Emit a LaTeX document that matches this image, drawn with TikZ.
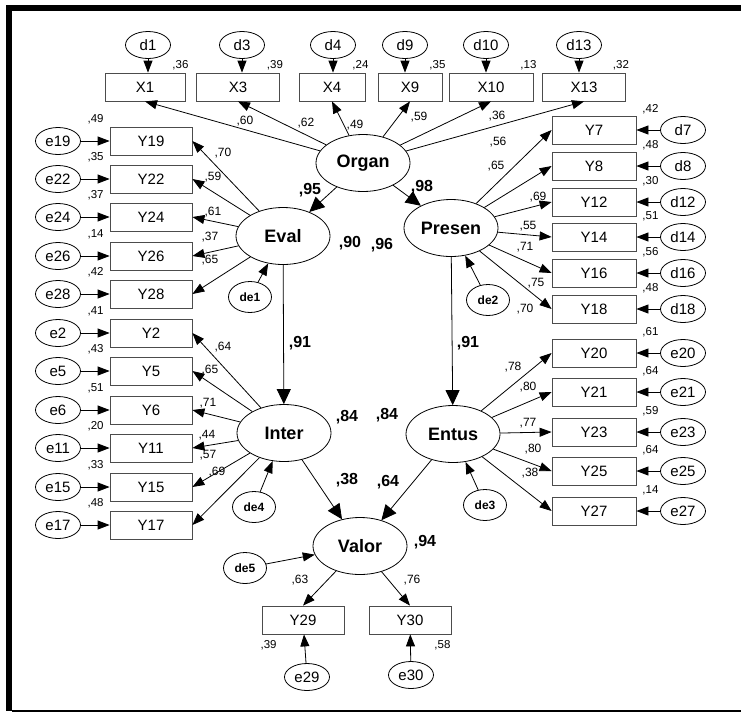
\documentclass[tikz,border=0pt]{standalone}
\usepackage{fontspec}
\setmainfont{Liberation Sans}
\usetikzlibrary{arrows.meta,shapes.geometric}
\tikzset{
    >={Triangle[length=12pt,width=9pt]},
    latent/.style={
           ellipse,
           draw=black, line width=0.8pt,
           minimum width=94pt, minimum height=57pt,
           inner sep=0pt,
           font=\fontsize{18}{18}\selectfont\bfseries},
    boks/.style={
           rectangle,
           draw=black!70, line width=0.8pt,
           minimum width=82pt, minimum height=28pt,
           inner sep=0pt,
           font=\fontsize{15}{15}\selectfont},
    feil/.style={
           ellipse,
           draw=black, line width=0.8pt,
           minimum width=45pt, minimum height=27pt,
           inner sep=0pt,
           font=\fontsize{15}{15}\selectfont},
    rest/.style={
           ellipse,
           draw=black, line width=0.8pt,
           minimum width=43pt, minimum height=31pt,
           inner sep=0pt,
           font=\fontsize{12}{12}\selectfont\bfseries},
    tall/.style={inner sep=0pt, font=\fontsize{11.5}{11.5}\selectfont},
    last/.style={inner sep=0pt, font=\fontsize{12}{12}\selectfont},
    koef/.style={inner sep=0pt, font=\fontsize{16}{16}\selectfont\bfseries},
    pil/.style={->, line width=0.8pt},
    storpil/.style={-{Triangle[length=15pt,width=14pt]}, line width=0.8pt}
}
\begin{document}
\begin{tikzpicture}[x=1pt,y=-1pt]
          \def \lx {151}
          \def \rx {594}
          \useasboundingbox (0,0) rectangle (741,713);
          % frame
          \fill[black] (6,5) rectangle (741,11);
          \fill[black] (6,5) rectangle (12,711);
          \draw[line width=1.5pt] (12,711) -- (741,711);
          % latent variables
          \node[latent](Organ) at (363,163) {Organ};
          \node[latent](Eval) at (283,236) {Eval};
          \node[latent](Presen) at (451,228) {Presen};
          \node[latent](Inter) at (284,433) {Inter};
          \node[latent](Entus) at (453,434) {Entus};
          \node[latent](Valor) at (360,546) {Valor};
          \node[rest](de1) at (250,297) {de1};
          \node[rest](de2) at (488,300) {de2};
          \node[rest](de3) at (485,505) {de3};
          \node[rest](de4) at (254,507) {de4};
          \node[rest](de5) at (245,568) {de5};
          % top row
          \node[boks, minimum width=80pt](X1) at (145,87) {X1};
          \node[boks, minimum width=83pt](X3) at (238,87) {X3};
          \node[boks, minimum width=66pt](X4) at (332,87) {X4};
          \node[boks, minimum width=64pt](X9) at (410,87) {X9};
          \node[boks, minimum width=84pt](X10) at (491,87) {X10};
          \node[boks, minimum width=83pt](X13) at (584,87) {X13};
          \node[feil](d1) at (148,45) {d1};
          \node[feil](d3) at (242,45) {d3};
          \node[feil](d4) at (333,45) {d4};
          \node[feil](d9) at (405,45) {d9};
          \node[feil](d10) at (486,45) {d10};
          \node[feil](d13) at (579,45) {d13};
          % left column
          \node[boks](Y19) at (\lx,141) {Y19};
          \node[boks](Y22) at (\lx,179) {Y22};
          \node[boks](Y24) at (\lx,217) {Y24};
          \node[boks](Y26) at (\lx,256) {Y26};
          \node[boks](Y28) at (\lx,294) {Y28};
          \node[boks](Y2) at (\lx,333) {Y2};
          \node[boks](Y5) at (\lx,371) {Y5};
          \node[boks](Y6) at (\lx,410) {Y6};
          \node[boks](Y11) at (\lx,448) {Y11};
          \node[boks](Y15) at (\lx,487) {Y15};
          \node[boks](Y17) at (\lx,525) {Y17};
          \node[feil](e19) at (58,141) {e19};
          \node[feil](e22) at (58,179) {e22};
          \node[feil](e24) at (58,217) {e24};
          \node[feil](e26) at (58,256) {e26};
          \node[feil](e28) at (58,294) {e28};
          \node[feil](e2) at (58,333) {e2};
          \node[feil](e5) at (58,371) {e5};
          \node[feil](e6) at (58,410) {e6};
          \node[feil](e11) at (58,448) {e11};
          \node[feil](e15) at (58,487) {e15};
          \node[feil](e17) at (58,525) {e17};
          % right column
          \node[boks, minimum width=84pt](Y7) at (\rx,130) {Y7};
          \node[boks, minimum width=84pt](Y8) at (\rx,166) {Y8};
          \node[boks, minimum width=84pt](Y12) at (\rx,202) {Y12};
          \node[boks, minimum width=84pt](Y14) at (\rx,237) {Y14};
          \node[boks, minimum width=84pt](Y16) at (\rx,273) {Y16};
          \node[boks, minimum width=84pt](Y18) at (\rx,309) {Y18};
          \node[boks, minimum width=84pt](Y20) at (\rx,353) {Y20};
          \node[boks, minimum width=84pt](Y21) at (\rx,392) {Y21};
          \node[boks, minimum width=84pt](Y23) at (\rx,432) {Y23};
          \node[boks, minimum width=84pt](Y25) at (\rx,471) {Y25};
          \node[boks, minimum width=84pt](Y27) at (\rx,511) {Y27};
          \node[feil](d7) at (683,130) {d7};
          \node[feil](d8) at (683,166) {d8};
          \node[feil](d12) at (683,202) {d12};
          \node[feil](d14) at (683,237) {d14};
          \node[feil](d16) at (683,273) {d16};
          \node[feil](d18) at (683,309) {d18};
          \node[feil](e20) at (683,353) {e20};
          \node[feil](e21) at (683,392) {e21};
          \node[feil](e23) at (683,432) {e23};
          \node[feil](e25) at (683,471) {e25};
          \node[feil](e27) at (683,511) {e27};
          % bottom
          \node[boks](Y29) at (303,620) {Y29};
          \node[boks](Y30) at (410,620) {Y30};
          \node[feil](e29) at (307,677) {e29};
          \node[feil](e30) at (411,675) {e30};
          % structural paths
          \draw[storpil] (Organ) -- (Eval);
          \draw[storpil] (Organ) -- (Presen);
          \draw[storpil] (Eval) -- (Inter);
          \draw[storpil] (Presen) -- (Entus);
          \draw[storpil] (Inter) -- (Valor);
          \draw[storpil] (Entus) -- (Valor);
          \draw[pil] (de1) -- (Eval);
          \draw[pil] (de2) -- (Presen);
          \draw[pil] (de3) -- (Entus);
          \draw[pil] (de4) -- (Inter);
          \draw[pil] (de5) -- (Valor);
          % loadings
          \draw[pil] (Organ) -- (X1.south);
          \draw[pil] (Organ) -- (X3.south);
          \draw[pil] (Organ) -- (X4.south);
          \draw[pil] (Organ) -- (X9.south);
          \draw[pil] (Organ) -- (X10.south);
          \draw[pil] (Organ) -- (X13.south);
          \draw[pil] (Eval) -- (Y19.east);
          \draw[pil] (Eval) -- (Y22.east);
          \draw[pil] (Eval) -- (Y24.east);
          \draw[pil] (Eval) -- (Y26.east);
          \draw[pil] (Eval) -- (Y28.east);
          \draw[pil] (Inter) -- (Y2.east);
          \draw[pil] (Inter) -- (Y5.east);
          \draw[pil] (Inter) -- (Y6.east);
          \draw[pil] (Inter) -- (Y11.east);
          \draw[pil] (Inter) -- (Y15.east);
          \draw[pil] (Inter) -- (Y17.east);
          \draw[pil] (Presen) -- (Y7.west);
          \draw[pil] (Presen) -- (Y8.west);
          \draw[pil] (Presen) -- (Y12.west);
          \draw[pil] (Presen) -- (Y14.west);
          \draw[pil] (Presen) -- (Y16.west);
          \draw[pil] (Presen) -- (Y18.west);
          \draw[pil] (Entus) -- (Y20.west);
          \draw[pil] (Entus) -- (Y21.west);
          \draw[pil] (Entus) -- (Y23.west);
          \draw[pil] (Entus) -- (Y25.west);
          \draw[pil] (Entus) -- (Y27.west);
          \draw[pil] (Valor) -- (Y29.north);
          \draw[pil] (Valor) -- (Y30.north);
          % error terms
          \draw[pil] (d1.south) -- (d1.south |- X1.north);
          \draw[pil] (d3.south) -- (d3.south |- X3.north);
          \draw[pil] (d4.south) -- (d4.south |- X4.north);
          \draw[pil] (d9.south) -- (d9.south |- X9.north);
          \draw[pil] (d10.south) -- (d10.south |- X10.north);
          \draw[pil] (d13.south) -- (d13.south |- X13.north);
          \draw[pil] (e19) -- (Y19);
          \draw[pil] (e22) -- (Y22);
          \draw[pil] (e24) -- (Y24);
          \draw[pil] (e26) -- (Y26);
          \draw[pil] (e28) -- (Y28);
          \draw[pil] (e2) -- (Y2);
          \draw[pil] (e5) -- (Y5);
          \draw[pil] (e6) -- (Y6);
          \draw[pil] (e11) -- (Y11);
          \draw[pil] (e15) -- (Y15);
          \draw[pil] (e17) -- (Y17);
          \draw[pil] (d7) -- (Y7);
          \draw[pil] (d8) -- (Y8);
          \draw[pil] (d12) -- (Y12);
          \draw[pil] (d14) -- (Y14);
          \draw[pil] (d16) -- (Y16);
          \draw[pil] (d18) -- (Y18);
          \draw[pil] (e20) -- (Y20);
          \draw[pil] (e21) -- (Y21);
          \draw[pil] (e23) -- (Y23);
          \draw[pil] (e25) -- (Y25);
          \draw[pil] (e27) -- (Y27);
          \draw[pil] (e29) -- (Y29);
          \draw[pil] (e30) -- (Y30);
          % squared multiple correlations
          \node[tall, anchor=south](vX1) at ([xshift=-5pt,yshift=2pt]X1.north east) {,36};
          \node[tall, anchor=south](vX3) at ([xshift=-5pt,yshift=2pt]X3.north east) {,39};
          \node[tall, anchor=south](vX4) at ([xshift=-5pt,yshift=2pt]X4.north east) {,24};
          \node[tall, anchor=south](vX9) at ([xshift=-5pt,yshift=2pt]X9.north east) {,35};
          \node[tall, anchor=south](vX10) at ([xshift=-5pt,yshift=2pt]X10.north east) {,13};
          \node[tall, anchor=south](vX13) at ([xshift=-5pt,yshift=2pt]X13.north east) {,32};
          \node[tall, anchor=south](vY19) at ([xshift=-14pt,yshift=2pt]Y19.north west) {,49};
          \node[tall, anchor=south](vY22) at ([xshift=-14pt,yshift=2pt]Y22.north west) {,35};
          \node[tall, anchor=south](vY24) at ([xshift=-14pt,yshift=2pt]Y24.north west) {,37};
          \node[tall, anchor=south](vY26) at ([xshift=-14pt,yshift=2pt]Y26.north west) {,14};
          \node[tall, anchor=south](vY28) at ([xshift=-14pt,yshift=2pt]Y28.north west) {,42};
          \node[tall, anchor=south](vY2) at ([xshift=-14pt,yshift=2pt]Y2.north west) {,41};
          \node[tall, anchor=south](vY5) at ([xshift=-14pt,yshift=2pt]Y5.north west) {,43};
          \node[tall, anchor=south](vY6) at ([xshift=-14pt,yshift=2pt]Y6.north west) {,51};
          \node[tall, anchor=south](vY11) at ([xshift=-14pt,yshift=2pt]Y11.north west) {,20};
          \node[tall, anchor=south](vY15) at ([xshift=-14pt,yshift=2pt]Y15.north west) {,33};
          \node[tall, anchor=south](vY17) at ([xshift=-14pt,yshift=2pt]Y17.north west) {,48};
          \node[tall, anchor=south](vY7) at ([xshift=14pt,yshift=1pt]Y7.north east) {,42};
          \node[tall, anchor=south](vY8) at ([xshift=14pt,yshift=1pt]Y8.north east) {,48};
          \node[tall, anchor=south](vY12) at ([xshift=14pt,yshift=1pt]Y12.north east) {,30};
          \node[tall, anchor=south](vY14) at ([xshift=14pt,yshift=1pt]Y14.north east) {,51};
          \node[tall, anchor=south](vY16) at ([xshift=14pt,yshift=1pt]Y16.north east) {,56};
          \node[tall, anchor=south](vY18) at ([xshift=14pt,yshift=1pt]Y18.north east) {,48};
          \node[tall, anchor=south](vY20) at ([xshift=14pt,yshift=1pt]Y20.north east) {,61};
          \node[tall, anchor=south](vY21) at ([xshift=14pt,yshift=1pt]Y21.north east) {,64};
          \node[tall, anchor=south](vY23) at ([xshift=14pt,yshift=1pt]Y23.north east) {,59};
          \node[tall, anchor=south](vY25) at ([xshift=14pt,yshift=1pt]Y25.north east) {,64};
          \node[tall, anchor=south](vY27) at ([xshift=14pt,yshift=1pt]Y27.north east) {,14};
          \node[tall, anchor=north](vY29) at ([xshift=7pt,yshift=-6pt]Y29.south west) {,39};
          \node[tall, anchor=north](vY30) at ([xshift=-9pt,yshift=-6pt]Y30.south east) {,58};
          % loading values
          \node[last](lX1) at (245,121) {,60};
          \node[last](lX3) at (306,123) {,62};
          \node[last](lX4) at (355,125) {,49};
          \node[last](lX9) at (419,117) {,59};
          \node[last](lX10) at (497,116) {,36};
          \node[last](lX13) at (498,142) {,56};
          \node[last](lY19) at (223,153) {,70};
          \node[last](lY22) at (213,177) {,59};
          \node[last](lY24) at (213,212) {,61};
          \node[last](lY26) at (210,237) {,37};
          \node[last](lY28) at (210,260) {,65};
          \node[last](lY2) at (223,347) {,64};
          \node[last](lY5) at (210,370) {,65};
          \node[last](lY6) at (208,403) {,71};
          \node[last](lY11) at (207,435) {,44};
          \node[last](lY15) at (208,455) {,57};
          \node[last](lY17) at (217,472) {,69};
          \node[last](lY7) at (496,166) {,65};
          \node[last](lY8) at (538,197) {,69};
          \node[last](lY12) at (528,226) {,55};
          \node[last](lY14) at (525,247) {,71};
          \node[last](lY16) at (536,283) {,75};
          \node[last](lY18) at (525,309) {,70};
          \node[last](lY20) at (513,367) {,78};
          \node[last](lY21) at (528,387) {,80};
          \node[last](lY23) at (528,423) {,77};
          \node[last](lY25) at (533,449) {,80};
          \node[last](lY27) at (530,473) {,38};
          \node[last](lY29) at (300,580) {,63};
          \node[last](lY30) at (412,580) {,76};
          % path coefficients
          \node[koef](kEval) at (310,190) {,95};
          \node[koef](kPresen) at (422,187) {,98};
          \node[koef](rEval) at (350,243) {,90};
          \node[koef](rPresen) at (382,245) {,96};
          \node[koef](kInter) at (300,343) {,91};
          \node[koef](kEntus) at (468,343) {,91};
          \node[koef](rInter) at (347,417) {,84};
          \node[koef](rEntus) at (387,415) {,84};
          \node[koef](kValorI) at (347,480) {,38};
          \node[koef](kValorE) at (388,482) {,64};
          \node[koef](rValor) at (425,542) {,94};
\end{tikzpicture}
\end{document}
